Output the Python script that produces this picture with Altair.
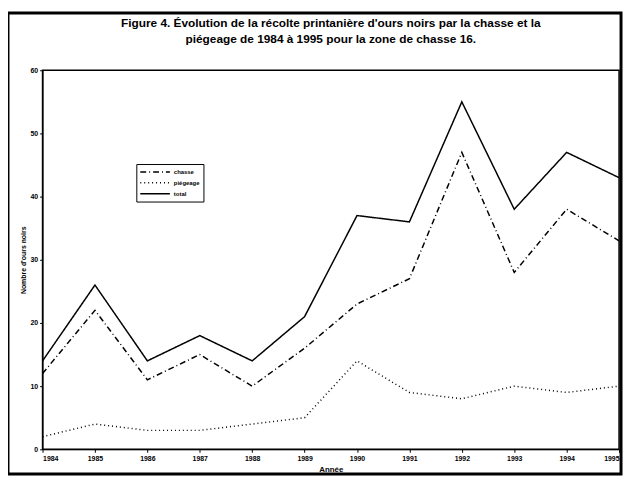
import altair as alt
import pandas as pd

years = list(range(1984, 1996))
chasse = [12, 22, 11, 15, 10, 16, 23, 27, 47, 28, 38, 33]
piegeage = [2, 4, 3, 3, 4, 5, 14, 9, 8, 10, 9, 10]
total = [14, 26, 14, 18, 14, 21, 37, 36, 55, 38, 47, 43]
series_names = ["chasse", "piégeage", "total"]

rows = []
for name, vals in zip(series_names, [chasse, piegeage, total]):
    for y, v in zip(years, vals):
        rows.append({"Année": y, "Nombre": v, "Série": name})
df = pd.DataFrame(rows)

W, H = 584, 384

lines = alt.Chart(df).mark_line(color="black").encode(
    x=alt.X("Année:Q", scale=alt.Scale(domain=[1984, 1995], nice=False, zero=False),
            axis=alt.Axis(title="Année", values=years, format="d", labelFontSize=7,
                          labelFontWeight="bold", titleFontSize=8, titleFontWeight="bold",
                          grid=False, tickSize=3, tickColor="black", domainColor="black",
                          labelColor="black", titleColor="black", titlePadding=4)),
    y=alt.Y("Nombre:Q", scale=alt.Scale(domain=[0, 60], nice=False),
            axis=alt.Axis(title="Nombre d'ours noirs", values=[0, 10, 20, 30, 40, 50, 60],
                          labelFontSize=7, labelFontWeight="bold", titleFontSize=7,
                          titleFontWeight="bold", grid=False, tickSize=3, tickColor="black",
                          domainColor="black", labelColor="black", titleColor="black",
                          titlePadding=3, labelPadding=2)),
    strokeDash=alt.StrokeDash("Série:N",
        scale=alt.Scale(domain=series_names, range=[[6, 3, 1, 3], [1, 3], [1, 0]]),
        legend=alt.Legend(title=None, orient="none", legendX=95, legendY=95,
                          symbolType="stroke", symbolSize=900, symbolStrokeColor="black",
                          labelFontSize=6, labelFontWeight="bold", labelColor="black",
                          strokeColor="black", fillColor="white", padding=3,
                          rowPadding=1, clipHeight=10, labelOffset=3,
                          symbolStrokeWidth=1.2)),
    strokeWidth=alt.StrokeWidth("Série:N",
        scale=alt.Scale(domain=series_names, range=[1.5, 1.5, 2]), legend=None),
    detail="Série:N",
)

frame = alt.Chart(pd.DataFrame({"a": [0]})).mark_rect(
    fill=None, stroke="black", strokeWidth=3
).encode(
    x=alt.value(-35), x2=alt.value(586), y=alt.value(-58), y2=alt.value(409)
)

chart = alt.layer(lines, frame).properties(
    width=W, height=H,
    autosize=alt.AutoSizeParams(type="none"),
    padding={"left": 35, "top": 60, "right": 4, "bottom": 27},
    title=alt.Title(
        ["Figure 4. Évolution de la récolte printanière d'ours noirs par la chasse et la",
         "piégeage de 1984 à 1995 pour la zone de chasse 16."],
        font="Liberation Sans", fontSize=12, fontWeight="bold", color="black",
        anchor="middle", frame="group", offset=-35, lineHeight=16),
).configure(font="Liberation Sans").configure_view(stroke="black", strokeWidth=1.5)

chart.save("out.html", embed_options={"renderer": "svg", "actions": False})
